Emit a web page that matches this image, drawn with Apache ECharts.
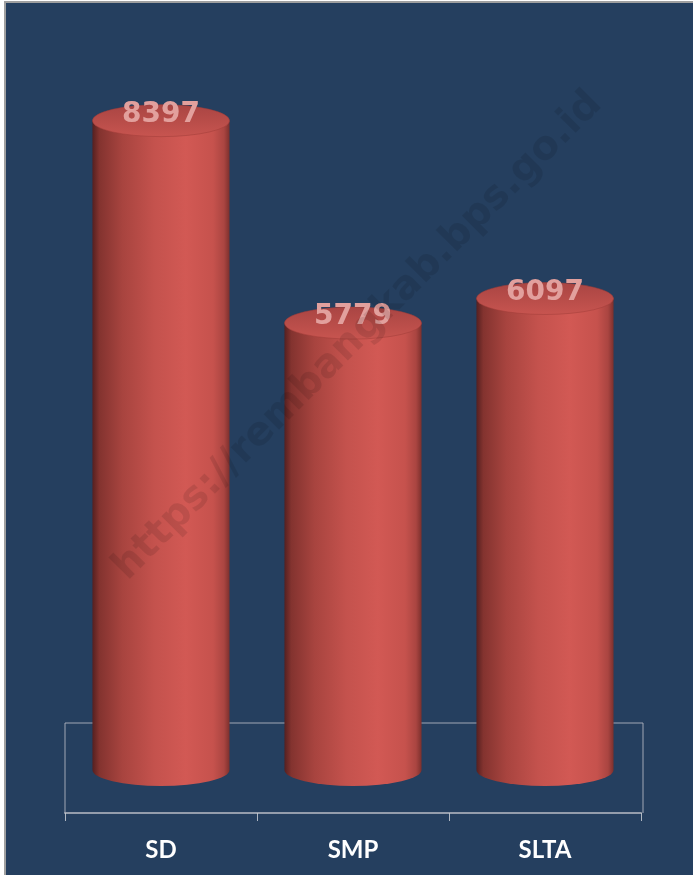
<!DOCTYPE html>
<html>
<head>
<meta charset="utf-8">
<script src="https://cdn.jsdelivr.net/npm/echarts@6/dist/echarts.min.js"></script>
<style>
  html, body { margin: 0; padding: 0; background: #ffffff; }
  #bg { position: absolute; left: 4px; top: 1px; right: 0; bottom: 0;
        background: #253F5F; border-top: 2px solid #a0a0a0; border-left: 2px solid #a0a0a0; }
  #chart { position: absolute; left: 0; top: 0; width: 693px; height: 875px; }
</style>
</head>
<body>
<div id="bg"></div>
<div id="chart"></div>
<script>
// ---- data ----
const categories = ['SD', 'SMP', 'SLTA'];
const values = [8397, 5779, 6097];
const watermark = 'https://rembangkab.bps.go.id';

// ---- layout ----
const W = 693, H = 875;
const gridLeft = 65, gridRight = 52, gridTop = 74, gridBottom = 105;
const axisOffset = 43;
const baseY = H - gridBottom;
const floorBackY = 723;
const floorRightX = 643;

const chart = echarts.init(document.getElementById('chart'), null, { renderer: 'canvas' });

const bodyGradient = new echarts.graphic.LinearGradient(0, 0, 1, 0, [
  { offset: 0.00, color: '#552020' },
  { offset: 0.05, color: '#83332f' },
  { offset: 0.22, color: '#a8443f' },
  { offset: 0.45, color: '#c4524d' },
  { offset: 0.68, color: '#d25954' },
  { offset: 0.88, color: '#c6524d' },
  { offset: 0.96, color: '#aa4541' },
  { offset: 1.00, color: '#7c302d' }
]);
const capGradient = new echarts.graphic.LinearGradient(0, 0, 0, 1, [
  { offset: 0.0, color: '#a94543' },
  { offset: 0.6, color: '#bb4e4a' },
  { offset: 1.0, color: '#c85550' }
]);

function renderCylinder(params, api) {
  const idx = api.value(0), val = api.value(1);
  const base = api.coord([idx, 0]);
  const top = api.coord([idx, val]);
  const bw = api.size([1, 0])[0] * 0.714;
  const rx = bw / 2, ry = 16;
  const l = base[0] - rx, r = base[0] + rx;
  const body = 'M' + l + ' ' + top[1] + ' L' + l + ' ' + base[1] +
    ' A' + rx + ' ' + ry + ' 0 0 0 ' + r + ' ' + base[1] +
    ' L' + r + ' ' + top[1] + ' Z';
  const cap = 'M' + l + ' ' + top[1] +
    ' A' + rx + ' ' + ry + ' 0 1 1 ' + r + ' ' + top[1] +
    ' A' + rx + ' ' + ry + ' 0 1 1 ' + l + ' ' + top[1] + ' Z';
  return {
    type: 'group',
    children: [
      { type: 'path', shape: { pathData: body }, style: { fill: bodyGradient } },
      { type: 'path', shape: { pathData: cap }, style: { fill: capGradient, stroke: 'rgba(160,60,56,0.5)', lineWidth: 1 } },
      { type: 'text', x: base[0], y: top[1] - 6,
        style: { text: String(val), fill: '#e2a09d', font: 'bold 28px "DejaVu Sans"',
                 align: 'center', verticalAlign: 'middle' } }
    ]
  };
}

const lineBack = 'rgba(175,180,190,0.45)';
const lineFront = 'rgba(185,190,198,0.75)';

chart.setOption({
  backgroundColor: 'transparent',
  animation: false,
  grid: { left: gridLeft, right: gridRight, top: gridTop, bottom: gridBottom },
  xAxis: {
    type: 'category',
    data: categories,
    offset: axisOffset,
    axisLine: { show: true, onZero: false, lineStyle: { color: lineFront, width: 2 } },
    axisTick: { show: true, inside: false, alignWithLabel: false, length: 8,
                lineStyle: { color: 'rgba(200,205,212,0.85)', width: 1 } },
    axisLabel: { color: '#ffffff', fontWeight: 'bold', fontSize: 24, fontFamily: 'Lato', margin: 25 }
  },
  yAxis: { type: 'value', min: 0, max: 9000, show: false },
  series: [{
    type: 'custom',
    renderItem: renderCylinder,
    encode: { x: 0, y: 1 },
    data: values.map((v, i) => [i, v]),
    z: 5
  }],
  graphic: [
    { type: 'line', z: 1, shape: { x1: gridLeft, y1: floorBackY, x2: floorRightX, y2: floorBackY },
      style: { stroke: lineBack, lineWidth: 2 } },
    { type: 'line', z: 1, shape: { x1: gridLeft, y1: floorBackY, x2: gridLeft, y2: baseY + axisOffset },
      style: { stroke: lineBack, lineWidth: 2 } },
    { type: 'line', z: 1, shape: { x1: floorRightX, y1: floorBackY, x2: floorRightX, y2: baseY + axisOffset },
      style: { stroke: lineBack, lineWidth: 2 } },
    { type: 'text', z: 100, x: 358, y: 336, rotation: Math.PI / 4,
      style: { text: watermark, fill: 'rgba(0,0,0,0.1)', font: 'bold 40px "DejaVu Sans"',
               align: 'center', verticalAlign: 'middle' } }
  ]
});
</script>
</body>
</html>
